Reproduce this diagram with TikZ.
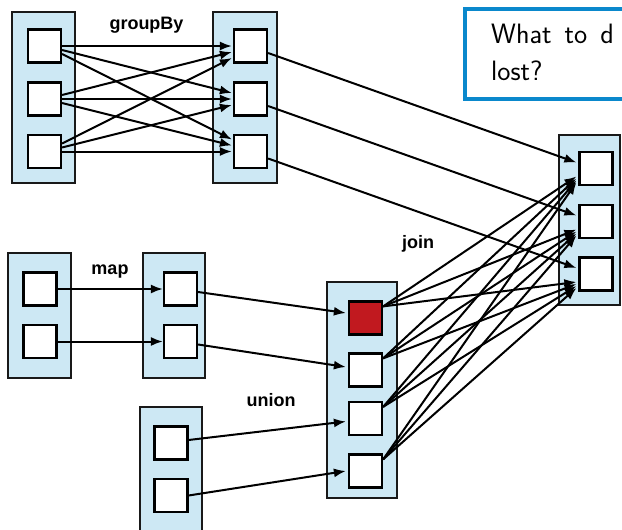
\documentclass[tikz,border=0pt]{standalone}
\usepackage{fontspec}
\newfontfamily\lblfont{Liberation Sans}
\usetikzlibrary{arrows.meta,calc}
\definecolor{partblue}{HTML}{CDE8F4}
\definecolor{callblue}{HTML}{0A88CC}
\definecolor{lostred}{HTML}{C1191F}

\begin{document}
\begin{tikzpicture}[x=1pt,y=-1pt,
  part/.style={draw=black!90,fill=partblue,line width=2pt,inner sep=0pt},
  cell/.style={draw=black,fill=white,line width=2.2pt,minimum size=33pt,inner sep=0pt},
  arr/.style={-{Latex[length=12pt,width=9pt]},line width=2pt},
  lbl/.style={font=\lblfont\bfseries\fontsize{18}{20}\selectfont,anchor=base,inner sep=0pt}]
  \useasboundingbox (0,0) rectangle (622,530);
  \clip (0,0) rectangle (622,530);
  % partitions
  \node[part,minimum width=63pt,minimum height=171pt] (pa) at (43.5,97.5) {};
  \node[part,minimum width=64pt,minimum height=171pt] (pb) at (245,97.5) {};
  \node[part,minimum width=61pt,minimum height=170pt] (pc) at (589.5,220) {};
  \node[part,minimum width=63pt,minimum height=125pt] (pd) at (39.5,315.5) {};
  \node[part,minimum width=62pt,minimum height=125pt] (pe) at (174,315.5) {};
  \node[part,minimum width=70pt,minimum height=216pt] (pf) at (362,390) {};
  \node[part,minimum width=62pt,minimum height=125pt] (pg) at (171,469.5) {};
  % question
  \node[draw=callblue,line width=4pt,fill=white,anchor=north west,
        minimum width=200pt,minimum height=90pt] (ask) at (463,7) {};
  \node[font=\sffamily\fontsize{28}{32}\selectfont,anchor=base west,inner sep=0pt] (ask1) at (491,43) {What\hspace{13pt}to\hspace{13pt}d};
  \node[font=\sffamily\fontsize{28}{32}\selectfont,anchor=base west,inner sep=0pt] (ask2) at (491,80) {lost?};
  % records
  \foreach \n/\y in {1/46,2/99,3/151.5} {
    \node[cell] (a\n) at (44.5,\y) {};
    \node[cell] (b\n) at (250.5,\y) {};
  }
  \foreach \n/\y in {1/168.5,2/221.5,3/274}
    \node[cell] (c\n) at (596,\y) {};
  \foreach \n/\y in {1/289,2/341.5} {
    \node[cell] (d\n) at (40,\y) {};
    \node[cell] (e\n) at (180.5,\y) {};
  }
  \node[cell,fill=lostred] (f1) at (365.5,318) {};
  \node[cell] (f2) at (365.5,370) {};
  \node[cell] (f3) at (365.5,418.5) {};
  \node[cell] (f4) at (365.5,471) {};
  \node[cell] (g1) at (171,443) {};
  \node[cell] (g2) at (171,495.5) {};
  % operations
  \node[lbl] (tgroup) at (146.5,29) {groupBy};
  \node[lbl] (tmap) at (110,274) {map};
  \node[lbl] (tjoin) at (418,248) {join};
  \node[lbl] (tunion) at (271,406) {union};
  \foreach \i in {1,2,3}
    \foreach \j in {1,2,3}
      \draw[arr] ($(a\i.east)+(0,{4*(\j-\i)})$) -- ($(b\j.west)+(-1,{6*(\i-\j)})$);
  \foreach \n in {1,2,3}
    \draw[arr] ($(b\n.east)+(0,7)$) -- ($(c\n.west)+(-2,-6)$);
  \draw[arr] (d1.east) -- (e1.west);
  \draw[arr] (d2.east) -- (e2.west);
  \draw[arr] ($(e1.east)+(0,3)$) -- ($(f1.west)+(-2,-5)$);
  \draw[arr] ($(e2.east)+(0,3)$) -- ($(f2.west)+(-2,-3)$);
  \draw[arr] ($(g1.east)+(0,-3)$) -- ($(f3.west)+(-2,3)$);
  \draw[arr] (g2.east) -- ($(f4.west)+(-2,0)$);
  \foreach \i in {1,...,4}
    \foreach \j in {1,2,3}
      \draw[arr] ($(f\i.north east)+(0,6)$) -- ($(c\j.west)+(-2,{6+2*\i})$);
\end{tikzpicture}
\end{document}
